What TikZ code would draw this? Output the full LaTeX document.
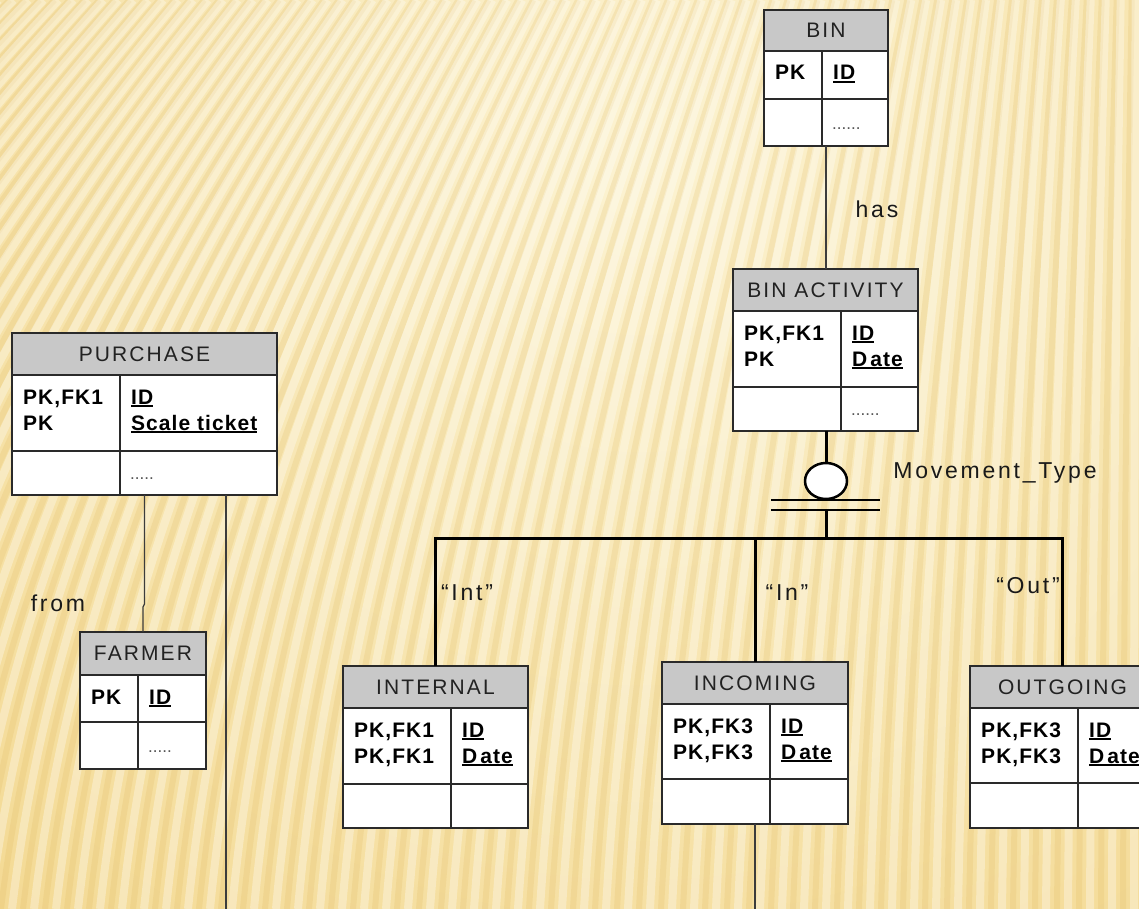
\documentclass[tikz,border=0pt]{standalone}
\usepackage{fontspec}
\setmainfont{Liberation Sans}
\newfontfamily\hdrfont[LetterSpace=10]{Liberation Sans}
\newfontfamily\lblfont[LetterSpace=12]{Liberation Sans}
\newfontfamily\keyfont[LetterSpace=5]{Liberation Sans}
\usetikzlibrary{shapes.geometric,calc}

\definecolor{bgB}{HTML}{F3D890}
\definecolor{bgL}{HTML}{FCF3D2}
\definecolor{bgD}{HTML}{DDB55A}
\definecolor{hdrgray}{HTML}{C8C8C8}
\definecolor{eborder}{HTML}{2A2A2A}
\definecolor{titlec}{HTML}{222222}
\definecolor{conncol}{HTML}{3C3C3C}
\definecolor{dotcol}{HTML}{555555}

\newcommand\ulx[1]{\setbox0=\hbox{#1}\rlap{\rule[-3pt]{\wd0}{1.6pt}}\box0}
\newcommand\Dt{D\hspace{3pt}ate}

\newcommand\entity[8]{% name, x, ytop, w, h, header h, row1 h, divider offset
  \node[entbox, minimum width=#4pt, minimum height=#5pt, anchor=north west] (#1) at (#2,-#3) {};
  \fill[hdr] (#1.north west) rectangle ([yshift=-#6pt]#1.north east);
  \draw[eline] ([yshift=-#6pt]#1.north west) -- ([yshift=-#6pt]#1.north east);
  \draw[eline] ([yshift=-#6pt-#7pt]#1.north west) -- ([yshift=-#6pt-#7pt]#1.north east);
  \draw[eline] ([shift={(#8pt,-#6pt)}]#1.north west) -- ([xshift=#8pt]#1.south west);
  \draw[eline] (#1.north west) rectangle (#1.south east);
}

\tikzset{
  entbox/.style={rectangle, fill=white, inner sep=0pt, outer sep=0pt},
  hdr/.style={fill=hdrgray},
  eline/.style={draw=eborder, line width=1.5pt},
  title/.style={inner sep=0pt, text=titlec, font=\hdrfont\fontsize{21}{25}\selectfont},
  keyt/.style={inner sep=0pt, anchor=base west, text=black, font=\keyfont\bfseries\fontsize{21}{25}\selectfont},
  dotst/.style={inner sep=0pt, anchor=base west, text=dotcol, font=\fontsize{17}{20}\selectfont},
  lbl/.style={inner sep=0pt, anchor=base, text=black!90, font=\lblfont\fontsize{23}{27}\selectfont},
  conn/.style={draw=conncol, line width=1.3pt},
  sub/.style={draw=black, line width=3pt},
  stripeL/.style={draw=white, opacity=0.32, line width=8pt},
  stripeD/.style={draw=bgD, opacity=0.2, line width=6pt},
}

\begin{document}
\begin{tikzpicture}[x=1pt,y=1pt]
\useasboundingbox (0,0) rectangle (1139,-909);
\begin{scope}
\clip (0,0) rectangle (1139,-909);
% background
\fill[bgB] (0,0) rectangle (1139,-909);
\shade[inner color=bgL, outer color=bgB] (640,-160) circle (1050pt);
\foreach \xb in {-1000,-978,...,1160}{
  \pgfmathsetmacro\d{0.32*(1139-\xb)}
  \draw[stripeL] (\xb,-909) .. controls ({\xb+0.1*\d},-600) and ({\xb+0.45*\d},-300) .. ({\xb+\d},0);
  \draw[stripeD] ({\xb+11},-909) .. controls ({\xb+11+0.1*\d},-600) and ({\xb+11+0.45*\d},-300) .. ({\xb+11+\d},0);
}

% entities
\entity{bin}{764}{10}{124}{136}{41}{48}{58}
\node[title] (bin-t) at ([yshift=-20.5pt]bin.north) {BIN};
\node[keyt] (bin-k1) at (775,-80) {PK};
\node[keyt] (bin-a1) at (833,-80) {\ulx{ID}};
\node[dotst] (bin-d) at (832,-130) {......};

\entity{binact}{733}{269}{185}{162}{42}{76}{108}
\node[title] (binact-t) at ([yshift=-21pt]binact.north) {BIN ACTIVITY};
\node[keyt] (binact-k1) at (744,-340) {PK,FK1};
\node[keyt] (binact-k2) at (744,-366) {PK};
\node[keyt] (binact-a1) at (852,-340) {\ulx{ID}};
\node[keyt] (binact-a2) at (852,-366) {\ulx{\Dt}};
\node[dotst] (binact-d) at (851,-415) {......};

\entity{purchase}{12}{333}{265}{162}{42}{76}{108}
\node[title] (purchase-t) at ([yshift=-21pt]purchase.north) {PURCHASE};
\node[keyt] (purchase-k1) at (23,-404) {PK,FK1};
\node[keyt] (purchase-k2) at (23,-430) {PK};
\node[keyt] (purchase-a1) at (131,-404) {\ulx{ID}};
\node[keyt] (purchase-a2) at (131,-430) {\ulx{Scale ticket}};
\node[dotst] (purchase-d) at (130,-479) {.....};

\entity{farmer}{80}{632}{126}{137}{43}{47}{58}
\node[title] (farmer-t) at ([yshift=-21.5pt]farmer.north) {FARMER};
\node[keyt] (farmer-k1) at (91,-704) {PK};
\node[keyt] (farmer-a1) at (149,-704) {\ulx{ID}};
\node[dotst] (farmer-d) at (148,-752) {.....};

\entity{internal}{343}{666}{185}{162}{42}{76}{108}
\node[title] (internal-t) at ([yshift=-21pt]internal.north) {INTERNAL};
\node[keyt] (internal-k1) at (354,-737) {PK,FK1};
\node[keyt] (internal-k2) at (354,-763) {PK,FK1};
\node[keyt] (internal-a1) at (462,-737) {\ulx{ID}};
\node[keyt] (internal-a2) at (462,-763) {\ulx{\Dt}};

\entity{incoming}{662}{662}{186}{162}{42}{75}{108}
\node[title] (incoming-t) at ([yshift=-21pt]incoming.north) {INCOMING};
\node[keyt] (incoming-k1) at (673,-733) {PK,FK3};
\node[keyt] (incoming-k2) at (673,-759) {PK,FK3};
\node[keyt] (incoming-a1) at (781,-733) {\ulx{ID}};
\node[keyt] (incoming-a2) at (781,-759) {\ulx{\Dt}};

\entity{outgoing}{970}{666}{185}{162}{42}{75}{108}
\node[title] (outgoing-t) at ([yshift=-21pt]outgoing.north) {OUTGOING};
\node[keyt] (outgoing-k1) at (981,-737) {PK,FK3};
\node[keyt] (outgoing-k2) at (981,-763) {PK,FK3};
\node[keyt] (outgoing-a1) at (1089,-737) {\ulx{ID}};
\node[keyt] (outgoing-a2) at (1089,-763) {\ulx{\Dt}};

% BIN -- BIN ACTIVITY
\draw[conn] (bin.south) -- (bin.south |- binact.north);
\node[lbl] (has) at (877,-218) {has};

% subtype symbol
\node[draw=black, line width=2.5pt, fill=white, ellipse, minimum width=42pt, minimum height=36pt, inner sep=0pt] (mt) at (826,-481) {};
\draw[line width=2.5pt] (771,-500) -- (880,-500) (771,-510) -- (880,-510);
\coordinate (bars) at (826,-510);
\coordinate (hub) at (826,-538);
\draw[sub] (mt.north |- binact.south) -- (mt.north);
\draw[sub] (bars) -- (hub);
\draw[sub] (internal.north) |- (hub) -| (outgoing.north);
\draw[sub] (incoming.north) -- (incoming.north |- hub);
\node[lbl] (mtl) at (995,-478) {Movement\_Type};
\node[lbl] (lint) at (467,-600) {“Int”};
\node[lbl] (lin) at (787,-600) {“In”};
\node[lbl] (lout) at (1028,-593) {“Out”};

% PURCHASE -- FARMER
\draw[conn] (purchase.south) -- ([yshift=-109pt]purchase.south) -- ([yshift=25pt]farmer.north) -- (farmer.north);
\node[lbl] (from) at (58,-611) {from};

% loose lines
\coordinate (pend) at (226,-909);
\draw[conn] (purchase.south -| pend) -- (pend);
\coordinate (iend) at (755,-909);
\draw[conn] (incoming.south) -- (iend);
\end{scope}
\end{tikzpicture}
\end{document}
